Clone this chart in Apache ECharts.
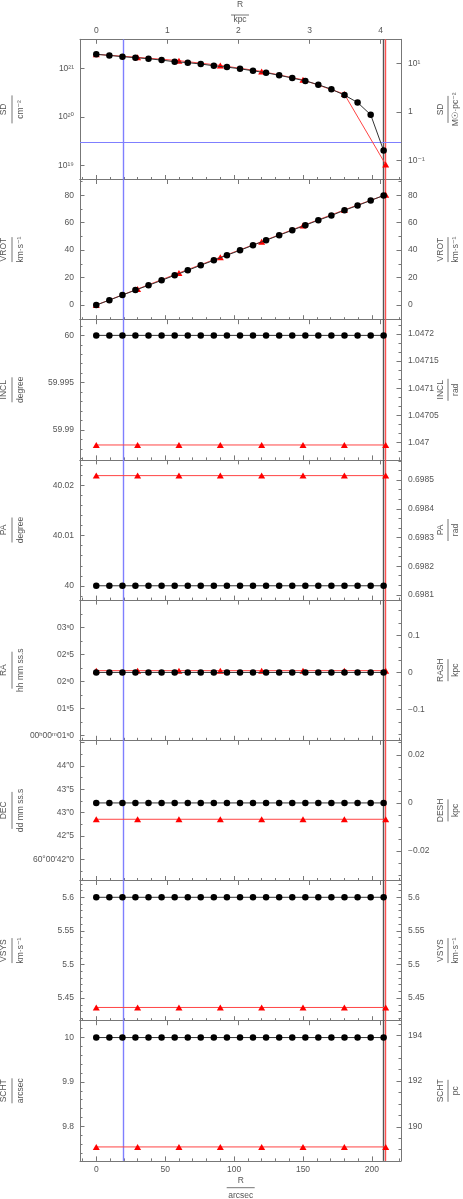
<!DOCTYPE html>
<html>
<head>
<meta charset="utf-8">
<title>Ring parameters</title>
<script src="https://cdn.jsdelivr.net/npm/echarts@6.0.0/dist/echarts.min.js"></script>
<style>
  html, body { margin: 0; padding: 0; background: #fff; }
  #chart { width: 463px; height: 1199px; }
</style>
</head>
<body>
<div id="chart"></div>
<script>
// ring radii in arcsec: fitted rings (black) and input model rings (red)
const radii = [0, 9.5, 19.0, 28.4, 37.9, 47.4, 56.9, 66.4, 75.8, 85.3, 94.8, 104.3,
  113.7, 123.2, 132.7, 142.2, 151.7, 161.1, 170.6, 180.1, 189.6, 199.1, 208.5];
const radiiModel = [0, 30, 60, 90, 120, 150, 180, 210];

// surface density, cm^-2
const sd = [1.95e21, 1.85e21, 1.74e21, 1.66e21, 1.58e21, 1.48e21, 1.37e21, 1.31e21,
  1.23e21, 1.13e21, 1.06e21, 9.8e20, 8.9e20, 8.1e20, 7.2e20, 6.3e20, 5.5e20, 4.6e20,
  3.7e20, 2.8e20, 1.97e20, 1.1e20, 2.0e19];
const sdModel = [1.95e21, 1.69e21, 1.44e21, 1.15e21, 8.65e20, 5.8e20, 2.94e20, 1.03e19];

// rotation velocity, km/s
const vrot = [0, 3.6, 7.3, 10.9, 14.4, 18.0, 21.7, 25.3, 29.0, 32.6, 36.3, 39.9,
  43.6, 47.2, 50.9, 54.5, 58.2, 61.8, 65.2, 69.1, 72.5, 76.2, 79.8];
const vrotModel = [0, 11.7, 23.4, 34.8, 46.2, 57.9, 69.3, 80.3];

// inclination, degree
const incl = [60, 60, 60, 60, 60, 60, 60, 60, 60, 60, 60, 60,
  60, 60, 60, 60, 60, 60, 60, 60, 60, 60, 60];
const inclModel = [59.9884, 59.9884, 59.9884, 59.9884, 59.9884, 59.9884, 59.9884, 59.9884];

// position angle, degree
const pa = [40, 40, 40, 40, 40, 40, 40, 40, 40, 40, 40, 40,
  40, 40, 40, 40, 40, 40, 40, 40, 40, 40, 40];
const paModel = [40.022, 40.022, 40.022, 40.022, 40.022, 40.022, 40.022, 40.022];

// right ascension, seconds after 00h00m
const ra = [2.167, 2.167, 2.167, 2.167, 2.167, 2.167, 2.167, 2.167, 2.167, 2.167, 2.167, 2.167,
  2.167, 2.167, 2.167, 2.167, 2.167, 2.167, 2.167, 2.167, 2.167, 2.167, 2.167];
const raModel = [2.2, 2.2, 2.2, 2.2, 2.2, 2.2, 2.2, 2.2];

// declination, arcsec after 60d00m
const dec = [43.21, 43.21, 43.21, 43.21, 43.21, 43.21, 43.21, 43.21, 43.21, 43.21, 43.21, 43.21,
  43.21, 43.21, 43.21, 43.21, 43.21, 43.21, 43.21, 43.21, 43.21, 43.21, 43.21];
const decModel = [42.86, 42.86, 42.86, 42.86, 42.86, 42.86, 42.86, 42.86];

// systemic velocity, km/s
const vsys = [5.6, 5.6, 5.6, 5.6, 5.6, 5.6, 5.6, 5.6, 5.6, 5.6, 5.6, 5.6,
  5.6, 5.6, 5.6, 5.6, 5.6, 5.6, 5.6, 5.6, 5.6, 5.6, 5.6];
const vsysModel = [5.436, 5.436, 5.436, 5.436, 5.436, 5.436, 5.436, 5.436];

// scale height, arcsec
const scht = [10, 10, 10, 10, 10, 10, 10, 10, 10, 10, 10, 10,
  10, 10, 10, 10, 10, 10, 10, 10, 10, 10, 10];
const schtModel = [9.7535, 9.7535, 9.7535, 9.7535, 9.7535, 9.7535, 9.7535, 9.7535];

// marker lines
const rInner = 19.9;
const rLastRing = 207.9;
const rLastModel = 210;
const sdCutoff = 2.94e19;

// tick labels
const sdTickExp = [19, 20, 21];
const sdTickText = ['10¹⁹', '10²⁰', '10²¹'];
const sdRightExp = [-1, 0, 1];
const sdRightText = ['10⁻¹', '1', '10¹'];
const raTickVals = [1.0, 1.5, 2.0, 2.5, 3.0];
const raTickText = ['00ʰ00ᵐ01ˢ0', '01ˢ5', '02ˢ0', '02ˢ5', '03ˢ0'];
const decTickVals = [42.0, 42.5, 43.0, 43.5, 44.0];
const decTickText = ['60°00′42″0', '42″5', '43″0', '43″5', '44″0'];

// unit conversions (distance ~4 Mpc)
const kpcPerArcsec = 0.01939;
const pcPerArcsec = 19.39;
const kpcPerSecRA = 0.1454;
const cm2PerMsunPc2 = 1.249e20;
const deg2rad = Math.PI / 180;

const FONT = 'Liberation Sans, DejaVu Sans, sans-serif';
const TEXT = '#555';
const LINE = '#777';
const FS = 8.5;

const panelTop = 39.3;
const panelH = 140.2;
const xMin = -11.8, xMax = 221.1;

function num(v) {
  return String(+v.toFixed(8)).replace('-', '\u2212');
}
function stepLabel(step) {
  return function (v) {
    const k = v / step;
    return Math.abs(k - Math.round(k)) < 1e-6 ? num(v) : '';
  };
}
function lookup(vals, text) {
  return function (v) {
    for (let i = 0; i < vals.length; i++) {
      if (Math.abs(v - vals[i]) < 1e-6) return text[i];
    }
    return '';
  };
}
function logLookup(exps, text) {
  return function (v) {
    const e = Math.log10(v);
    for (let i = 0; i < exps.length; i++) {
      if (Math.abs(e - exps[i]) < 1e-6) return text[i];
    }
    return '';
  };
}

const panels = [
  { left: ['SD', 'cm⁻²', 28], right: ['SD', 'M☉·pc⁻²', 27], log: true,
    lmin: Math.pow(10, 18.704), lmax: Math.pow(10, 21.6), conv: v => v / cm2PerMsunPc2,
    lfmt: logLookup(sdTickExp, sdTickText), rfmt: logLookup(sdRightExp, sdRightText),
    data: sd, model: sdModel },
  { left: ['VROT', 'km·s⁻¹', 25], right: ['VROT', 'km·s⁻¹', 25],
    lmin: -10.65, lmax: 91.45, conv: v => v, lsplit: 5, lminor: 2, rsplit: 5, rminor: 2,
    lfmt: stepLabel(20), rfmt: stepLabel(20), data: vrot, model: vrotModel },
  { left: ['INCL', 'degree', 25], right: ['INCL', 'rad', 22],
    lmin: 59.98682, lmax: 60.00166, conv: v => v * deg2rad, lsplit: 3, lminor: 5, rsplit: 5, rminor: 3,
    lfmt: stepLabel(0.005), rfmt: stepLabel(0.00005), data: incl, model: inclModel },
  { left: ['PA', 'degree', 25], right: ['PA', 'rad', 22],
    lmin: 39.99714, lmax: 40.02514, conv: v => v * deg2rad, lsplit: 3, lminor: 5, rsplit: 5, rminor: 3,
    lfmt: stepLabel(0.01), rfmt: stepLabel(0.0001), data: pa, model: paModel },
  { left: ['RA', 'hh mm ss.s', 37], right: ['RASH', 'kpc', 22],
    lmin: 0.907, lmax: 3.509, conv: v => (v - ra[0]) * kpcPerSecRA, lsplit: 5, lminor: 2, rsplit: 5, rminor: 3,
    lfmt: lookup(raTickVals, raTickText), rfmt: stepLabel(0.1), data: ra, model: raModel },
  { left: ['DEC', 'dd mm ss.s', 37], right: ['DESH', 'kpc', 22],
    lmin: 41.549, lmax: 44.551, conv: v => (v - dec[0]) * kpcPerArcsec, lsplit: 5, lminor: 2, rsplit: 3, rminor: 4,
    lfmt: lookup(decTickVals, decTickText), rfmt: stepLabel(0.02), data: dec, model: decModel },
  { left: ['VSYS', 'km·s⁻¹', 25], right: ['VSYS', 'km·s⁻¹', 25],
    lmin: 5.4163, lmax: 5.625, conv: v => v, lsplit: 5, lminor: 5, rsplit: 5, rminor: 5,
    lfmt: stepLabel(0.05), rfmt: stepLabel(0.05), data: vsys, model: vsysModel },
  { left: ['SCHT', 'arcsec', 25], right: ['SCHT', 'pc', 22],
    lmin: 9.722, lmax: 10.038, conv: v => v * pcPerArcsec, lsplit: 3, lminor: 5, rsplit: 3, rminor: 4,
    lfmt: stepLabel(0.1), rfmt: stepLabel(2), data: scht, model: schtModel }
];

function axis(o) {
  return {
    type: o.log ? 'log' : 'value',
    logBase: 10,
    gridIndex: o.grid,
    position: o.pos,
    min: o.min,
    max: o.max,
    splitNumber: o.split || 5,
    axisLine: { show: true, onZero: false, lineStyle: { color: LINE, width: 1 } },
    axisTick: { show: true, inside: true, length: 4.5, lineStyle: { color: LINE } },
    minorTick: { show: !!o.minor, splitNumber: o.minor || 5, length: 2.5, lineStyle: { color: LINE } },
    splitLine: { show: false },
    minorSplitLine: { show: false },
    axisLabel: {
      show: !!o.fmt, formatter: o.fmt, margin: o.margin || 6,
      color: TEXT, fontSize: FS, fontFamily: FONT
    }
  };
}

function pairs(xs, ys) {
  return xs.map((x, i) => [x, ys[i]]);
}

function fracTitle(x, y, rot, name, unit, len, gapUp, gapDown) {
  return {
    type: 'group', x: x, y: y, rotation: rot, silent: true,
    children: [
      { type: 'text', x: 0, y: -gapUp,
        style: { text: name, fill: TEXT, fontSize: FS, fontFamily: FONT, align: 'center', verticalAlign: 'middle' } },
      { type: 'line', shape: { x1: -len / 2, y1: 0, x2: len / 2, y2: 0 },
        style: { stroke: LINE, lineWidth: 1 } },
      { type: 'text', x: 0, y: gapDown,
        style: { text: unit, fill: TEXT, fontSize: FS, fontFamily: FONT, align: 'center', verticalAlign: 'middle' } }
    ]
  };
}

function vline(value, color) {
  return { xAxis: value, lineStyle: { color: color, width: 1.4, type: 'solid' } };
}

const grid = [], xAxis = [], yAxis = [], series = [], graphic = [];
const last = panels.length - 1;

panels.forEach((p, i) => {
  const top = panelTop + i * panelH;
  grid.push({ left: 80, right: 62, top: top, height: panelH });

  xAxis.push(axis({ grid: i, pos: 'bottom', min: xMin, max: xMax, split: 5, minor: 5,
    fmt: i === last ? stepLabel(50) : null, margin: 4 }));
  xAxis.push(axis({ grid: i, pos: 'top', min: xMin * kpcPerArcsec, max: xMax * kpcPerArcsec, split: 5,
    fmt: i === 0 ? stepLabel(1) : null, margin: 4 }));

  yAxis.push(axis({ grid: i, pos: 'left', log: p.log, min: p.lmin, max: p.lmax,
    split: p.lsplit, minor: p.lminor, fmt: p.lfmt, margin: 6 }));
  yAxis.push(axis({ grid: i, pos: 'right', log: p.log, min: p.conv(p.lmin), max: p.conv(p.lmax),
    split: p.rsplit, minor: p.rminor, fmt: p.rfmt, margin: 7 }));

  // model series carries the red end line, fitted series the blue and black ones
  const fitLines = [vline(rInner, '#7f7fff'), vline(rLastRing, '#555555')];
  if (i === 0) {
    fitLines.push({ yAxis: sdCutoff, lineStyle: { color: '#7f7fff', width: 1, type: 'solid' } });
  }

  series.push({
    type: 'line', xAxisIndex: 2 * i, yAxisIndex: 2 * i, z: 2,
    data: pairs(radiiModel, p.model),
    symbol: 'triangle', symbolSize: [7, 6],
    itemStyle: { color: '#ff0000' },
    lineStyle: { color: '#ff4444', width: 1 },
    silent: true,
    markLine: {
      silent: true, symbol: 'none', z: 1, label: { show: false },
      lineStyle: { color: '#ff5050', width: 1.4, type: 'solid' },
      data: [{ xAxis: rLastModel }]
    }
  });
  series.push({
    type: 'line', xAxisIndex: 2 * i, yAxisIndex: 2 * i, z: 3,
    data: pairs(radii, p.data),
    symbol: 'circle', symbolSize: 6.5,
    itemStyle: { color: '#000' },
    lineStyle: { color: '#333', width: 1 },
    silent: true,
    markLine: {
      silent: true, symbol: 'none', z: 1, label: { show: false },
      lineStyle: { color: '#7f7fff', width: 1.4, type: 'solid' },
      data: fitLines
    }
  });

  const cy = top + panelH / 2;
  graphic.push(fracTitle(12, cy, Math.PI / 2, p.left[0], p.left[1], p.left[2], 8, 8.5));
  graphic.push(fracTitle(448, cy, Math.PI / 2, p.right[0], p.right[1], p.right[2], 7, 8));
});

// x axis titles
graphic.push(fracTitle(240, 15, 0, 'R', 'kpc', 18, 10.5, 4.5));
graphic.push(fracTitle(240.7, 1187.7, 0, 'R', 'arcsec', 28, 7, 8.3));

const chart = echarts.init(document.getElementById('chart'), null, { renderer: 'canvas' });
chart.setOption({
  animation: false,
  backgroundColor: '#fff',
  grid: grid,
  xAxis: xAxis,
  yAxis: yAxis,
  series: series,
  graphic: graphic
});
</script>
</body>
</html>
